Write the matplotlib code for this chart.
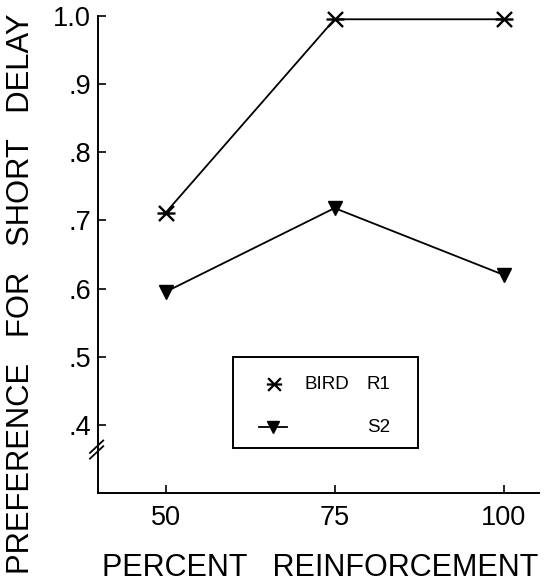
import numpy as np
import matplotlib
matplotlib.use("Agg")
import matplotlib.pyplot as plt
from matplotlib.path import Path
from matplotlib.patches import Rectangle

plt.rcParams['font.family'] = ['Liberation Sans', 'DejaVu Sans']

percent = [50, 75, 100]
bird_r1 = [0.711, 0.995, 0.995]
bird_s2 = [0.595, 0.718, 0.620]
yticks = [0.4, 0.5, 0.6, 0.7, 0.8, 0.9, 1.0]
ytick_labels = ['.4', '.5', '.6', '.7', '.8', '.9', '1.0']

# X with a horizontal bar through it
star = Path([(-1, -1), (1, 1), (-1, 1), (1, -1), (-1.2, 0), (1.2, 0)],
            [Path.MOVETO, Path.LINETO, Path.MOVETO, Path.LINETO,
             Path.MOVETO, Path.LINETO])

fig = plt.figure(figsize=(5.47, 5.88), dpi=100)
ax = fig.add_axes([0.179, 0.1616, 0.806, 0.8114])

ax.plot(percent, bird_r1, color='black', lw=1.3, marker=star, ms=13,
        mew=1.7, mfc='none', clip_on=False)
ax.plot(percent, bird_s2, color='black', lw=1.3, marker='v', ms=10,
        clip_on=False)

ax.set_xlim(40, 105.2)
ax.set_ylim(0.30, 1.0)
ax.set_xticks(percent)
ax.set_xticklabels([str(p) for p in percent])
ax.set_yticks(yticks)
ax.set_yticklabels(ytick_labels)
ax.tick_params(axis='both', direction='in', length=6, width=1.2,
               labelsize=19.5)
ax.tick_params(axis='x', pad=9)
ax.tick_params(axis='y', pad=5)

for s in ['top', 'right']:
    ax.spines[s].set_visible(False)
for s in ['left', 'bottom']:
    ax.spines[s].set_linewidth(1.4)

# axis break marks
for dy in [0.0, 0.012]:
    ax.plot([-0.018, 0.012], [0.072 + dy, 0.098 + dy], transform=ax.transAxes,
            color='black', lw=1.3, clip_on=False)

# legend box
ax.add_patch(Rectangle((0.307, 0.094), 0.42, 0.19, transform=ax.transAxes,
                       fill=False, ec='black', lw=1.4))
ax.plot([0.40], [0.228], transform=ax.transAxes, marker=star, ms=11,
        mew=1.6, color='black', ls='none')
ax.plot([0.365, 0.43], [0.138, 0.138], transform=ax.transAxes,
        color='black', lw=1.3)
ax.plot([0.398], [0.138], transform=ax.transAxes, marker='v', ms=9,
        color='black')
ax.text(0.468, 0.228, 'BIRD', transform=ax.transAxes, fontsize=13.5,
        va='center', ha='left')
ax.text(0.610, 0.228, 'R1', transform=ax.transAxes, fontsize=13.5,
        va='center', ha='left')
ax.text(0.610, 0.138, 'S2', transform=ax.transAxes, fontsize=13.5,
        va='center', ha='left')

fig.text(0.038, 0.500, 'PREFERENCE   FOR   SHORT   DELAY', rotation=90,
         ha='center', va='center', fontsize=22.3)
fig.text(0.585, 0.034, 'PERCENT   REINFORCEMENT', ha='center',
         va='center', fontsize=22)

fig.savefig('out.png', dpi=100)
